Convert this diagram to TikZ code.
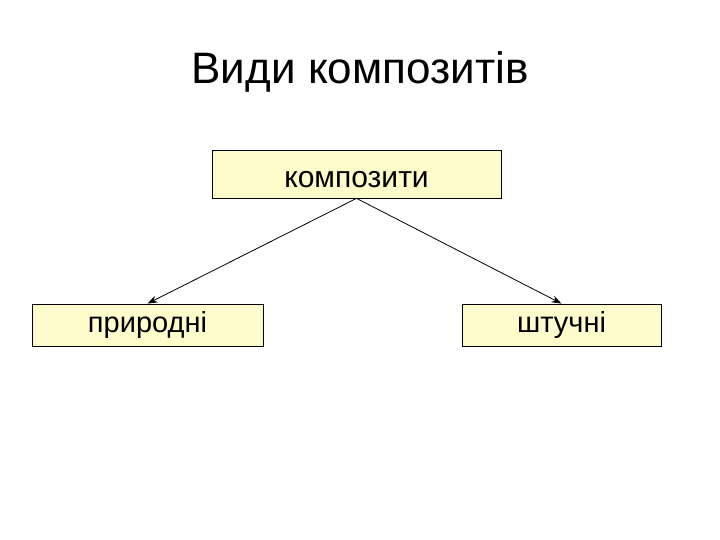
\documentclass[tikz,border=0pt]{standalone}
\usepackage{fontspec}
\setmainfont{Liberation Sans}
\usepackage{tikz}
\usetikzlibrary{positioning, arrows.meta}

\begin{document}
\begin{tikzpicture}[x=1pt, y=1pt,
            % --- Styles for the nodes ---
            kind/.style={
                draw, line width=0.8pt, rectangle, fill=yellow!20, font=\fontsize{29}{34}\selectfont,
                inner sep=0pt, minimum height=42pt
            },
            title/.style={font=\fontsize{44}{52}\selectfont},
            link/.style={-{Stealth[length=10pt, width=7pt]}, line width=0.8pt}
        ]

        \useasboundingbox (0,0) rectangle (720,540);

        % --- Diagram Title ---
        \node[title] (heading) at (360, 468) {Види композитів};

        % --- Boxes ---
        \node[kind, font=\fontsize{30}{34}\selectfont, minimum width=289pt, minimum height=48pt,
              text height=27pt, text depth=0pt] (composites) at (356.5, 366) {композити};
        \node[kind, minimum width=231pt] (natural) at (147.5, 215) {природні};
        \node[kind, minimum width=199pt] (artificial) at (561.5, 215) {штучні};

        % --- Arrows ---
        \draw[link] (composites.south) -- (natural.north);
        \draw[link] (composites.south) -- (artificial.north);

        \end{tikzpicture}
\end{document}
